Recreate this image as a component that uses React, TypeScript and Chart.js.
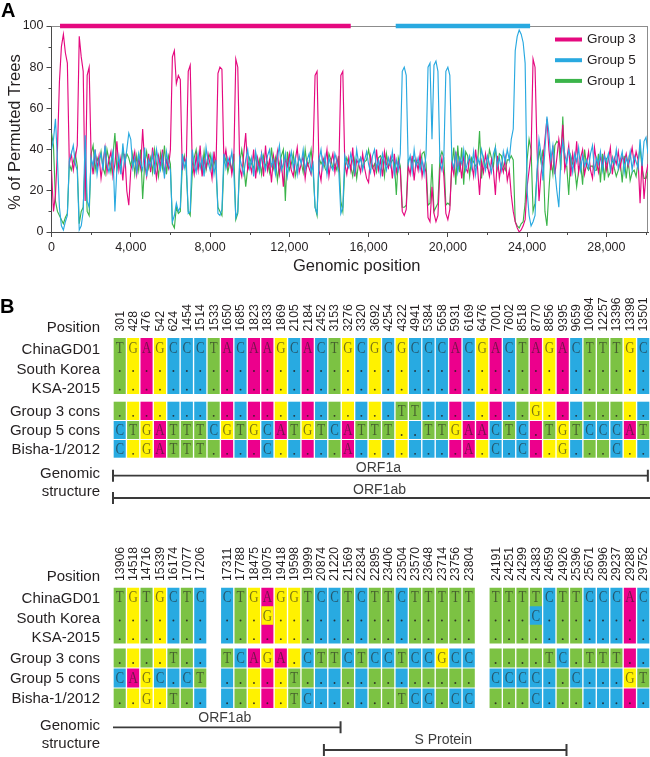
import React, { useEffect, useRef } from 'react';
import { Chart, registerables } from 'chart.js';

Chart.register(...registerables);

const SANS = "'Liberation Sans', Arial, Helvetica, sans-serif";
const SERIF = "'Liberation Serif', 'Times New Roman', serif";
const INK = '#231f20';
const AXIS = '#4a4a4a';
const FRAME = '#8c8c8c';
const STRUCT = '#3a3a3a';

// ---------------- Panel A data ----------------
const genomeLength = 30100;
const windowStep = 100;
const seriesNames = ['Group 3', 'Group 5', 'Group 1'];
const seriesColors = ['#E5097F', '#29A9E0', '#3BB44A'];

const group3Values = [
  30, 10, 18, 40, 73, 90, 96, 87, 82, 33,
  38, 30, 36, 42, 95, 85, 78, 15, 76, 80,
  36, 28, 40, 31, 37, 26, 34, 41, 29, 35,
  39, 27, 33, 44, 30, 36, 25, 38, 20, 13,
  30, 34, 39, 28, 36, 31, 50, 33, 27, 38,
  29, 41, 33, 26, 37, 32, 40, 28, 35, 31,
  40, 85, 88, 72, 76, 74, 30, 36, 33, 78,
  81, 34, 28, 37, 30, 42, 27, 35, 31, 38,
  33, 26, 39, 31, 77, 80, 79, 34, 40, 32,
  36, 28, 35, 84, 80, 31, 27, 38, 48, 30,
  33, 29, 40, 26, 36, 31, 38, 27, 42, 30,
  35, 24, 37, 31, 39, 28, 34, 22, 36, 32,
  38, 30, 27, 35, 41, 29, 33, 37, 26, 34,
  31, 28, 39, 76, 78, 30, 25, 36, 33, 40,
  27, 34, 38, 29, 36, 31, 76, 78, 33, 28,
  36, 30, 41, 27, 35, 33, 29, 38, 31, 26,
  24, 37, 32, 28, 40, 30, 35, 27, 39, 33,
  31, 36, 26, 38, 29, 34, 30, 10, 8, 11,
  32, 28, 37, 25, 35, 30, 38, 27, 33, 29,
  7, 5, 22, 9, 5, 8, 30, 36, 27, 9,
  6, 11, 33, 28, 39, 30, 35, 26, 37, 31,
  29, 36, 33, 27, 40, 31, 18, 34, 29, 38,
  32, 27, 35, 30, 18, 37, 26, 33, 29, 36,
  25, 30, 18, 10, 5, 2, 0, 1, 3, 6,
  22, 30, 38, 84, 80, 40, 15, 28, 35, 45,
  55, 40, 30, 42, 28, 36, 45, 38, 52, 30,
  35, 42, 27, 38, 31, 44, 29, 36, 40, 28,
  33, 39, 30, 26, 41, 34, 29, 37, 32, 38,
  30, 35, 41, 28, 36, 33, 39, 31, 37, 34,
  38, 32, 36, 41, 33, 39, 35, 14, 35, 16,
  28, 33,
];

const group5Values = [
  40, 45, 55, 35, 12, 3, 1, 5, 8, 35,
  38, 42, 33, 30, 1, 3, 10, 47, 15, 12,
  36, 32, 40, 28, 35, 38, 30, 42, 33, 29,
  34, 39, 10, 31, 37, 28, 43, 33, 40, 48,
  45, 31, 36, 29, 38, 33, 30, 41, 27, 35,
  32, 38, 28, 40, 34, 30, 37, 26, 39, 33,
  30, 5, 8, 14, 10, 12, 38, 31, 35, 9,
  10, 40, 33, 29, 38, 31, 36, 27, 41, 34,
  30, 37, 28, 35, 9, 8, 11, 38, 31, 36,
  33, 39, 29, 7, 10, 36, 32, 28, 35, 40,
  31, 36, 27, 39, 33, 29, 38, 34, 30, 37,
  40, 32, 35, 28, 36, 42, 30, 33, 38, 27,
  34, 39, 31, 36, 28, 37, 33, 40, 30, 35,
  38, 29, 33, 12, 9, 35, 40, 31, 37, 28,
  36, 32, 30, 38, 34, 29, 9, 12, 37, 33,
  31, 38, 34, 29, 40, 33, 36, 30, 35, 39,
  33, 29, 37, 40, 31, 35, 28, 38, 34, 30,
  36, 32, 39, 28, 35, 30, 38, 78, 80, 76,
  33, 37, 29, 40, 32, 36, 30, 35, 28, 38,
  80, 82, 45, 81, 83, 78, 34, 30, 37, 78,
  80, 76, 35, 31, 38, 29, 36, 33, 40, 30,
  34, 37, 31, 39, 28, 36, 33, 40, 35, 30,
  37, 33, 29, 38, 41, 32, 36, 30, 39, 34,
  40, 35, 45, 50, 88, 95, 98, 96, 92, 82,
  20, 8, 3, 5, 8, 30, 45, 38, 25, 40,
  56, 48, 35, 42, 30, 20, 12, 35, 44, 38,
  33, 40, 36, 29, 38, 34, 41, 30, 37, 32,
  35, 31, 38, 42, 29, 36, 33, 39, 30, 37,
  34, 38, 30, 36, 33, 40, 31, 35, 39, 29,
  36, 33, 39, 30, 37, 34, 31, 45, 32, 44,
  46, 38,
];

const group1Values = [
  48, 42, 15, 10, 8, 6, 4, 7, 9, 33,
  30, 34, 38, 32, 4, 10, 12, 36, 10, 8,
  38, 42, 30, 36, 33, 39, 31, 28, 40, 35,
  29, 37, 48, 30, 35, 32, 40, 34, 38, 36,
  32, 38, 28, 37, 30, 40, 16, 33, 39, 31,
  36, 29, 40, 33, 27, 38, 31, 42, 28, 37,
  33, 4, 2, 12, 9, 10, 32, 37, 30, 10,
  8, 28, 36, 40, 31, 33, 29, 39, 30, 35,
  38, 31, 35, 30, 12, 10, 8, 33, 36, 29,
  34, 30, 38, 6, 9, 34, 40, 33, 22, 31,
  36, 33, 31, 38, 30, 35, 28, 37, 32, 34,
  29, 41, 31, 36, 25, 33, 37, 40, 15, 39,
  30, 33, 38, 27, 32, 36, 34, 29, 40, 32,
  34, 40, 30, 12, 8, 36, 33, 35, 31, 29,
  38, 35, 31, 33, 30, 37, 15, 10, 31, 36,
  33, 32, 27, 35, 26, 34, 36, 31, 34, 35,
  40, 34, 31, 33, 29, 36, 37, 35, 27, 38,
  32, 33, 35, 34, 18, 36, 32, 12, 12, 13,
  35, 36, 34, 35, 33, 34, 32, 38, 39, 33,
  13, 14, 33, 10, 12, 14, 36, 39, 36, 13,
  14, 13, 32, 41, 23, 42, 29, 41, 23, 39,
  37, 27, 36, 34, 32, 33, 49, 26, 36, 32,
  31, 40, 36, 32, 41, 31, 38, 37, 32, 30,
  35, 35, 37, 35, 5, 3, 2, 4, 5, 14,
  35, 45, 40, 10, 14, 28, 40, 34, 40, 10,
  3, 20, 35, 28, 42, 44, 43, 30, 56, 32,
  32, 18, 37, 33, 31, 22, 30, 34, 23, 40,
  32, 30, 32, 32, 30, 30, 38, 24, 38, 25,
  36, 27, 29, 36, 31, 27, 30, 34, 24, 37,
  26, 35, 25, 29, 30, 27, 34, 41, 31, 26,
  26, 29,
];

// breakpoint regions drawn as bars along the top of the plot
const group3Region = [430, 15100];
const group5Region = [17370, 24150];

const yTicks = [0, 20, 40, 60, 80, 100];
const yMinorTicks = [10, 30, 50, 70, 90];
const xTicks = [0, 4000, 8000, 12000, 16000, 20000, 24000, 28000];
const xMinorTicks = [2000, 6000, 10000, 14000, 18000, 22000, 26000, 30000];

// ---------------- Panel B data ----------------
const rowNames = ['ChinaGD01', 'South Korea', 'KSA-2015', 'Group 3 cons', 'Group 5 cons', 'Bisha-1/2012'];
const ntColors: Record<string, string> = { T: '#7CC243', G: '#FFF200', A: '#EC008C', C: '#28AAE1' };

const positionsTop = ['301', '428', '476', '542', '624', '1454', '1514', '1533', '1650', '1685', '1823', '1833', '1869', '2105', '2184', '2452', '3153', '3276', '3320', '3692', '4254', '4322', '4941', '5384', '5658', '5931', '6169', '6476', '7001', '7602', '8518', '8770', '8856', '9395', '9659', '10694', '12257', '13396', '13398', '13501'];
const chinaTop = 'TGAGCCCTACAAGCACTGCGCGCCCACGACTAGACTTTGC';
const koreaTop = '........................................';
const ksaTop = '........................................';
const group3Top = '.....................TT........G........';
const group5Top = 'CTGATTTCGTGCATGTCATTT..TTGAACTC.TGTCCCAT';
const bishaTop = 'C.GATTT....C.....A........A.C.C..G...C..';

const positionsBottom = ['13906', '14518', '14716', '15339', '16174', '17077', '17206', '', '17311', '17788', '18475', '19075', '19418', '19598', '19999', '20874', '21220', '21569', '22834', '22895', '23406', '23504', '23570', '23648', '23714', '23756', '23804', '', '24191', '24251', '24299', '24383', '24659', '24926', '25396', '25671', '28996', '29237', '29288', '29752'];
const chinaBottom = 'TGTGCTC_CTGAGGTCCTCTTCTTTTT_TTTTCTTCCCAC';
const koreaBottom = '......._...G..............._...C........';
const ksaBottom = '......._..................._............';
const group3Bottom = '....T.._TCAGA.CTTCTCCTCCGCC_....TC.TTT..';
const group5Bottom = 'CAGC.CT_.....T............._CCCC..C...GT';
const bishaBottom = '..G.T.._.....TC......TCC.CC_...C........';

// genomic structure annotations (in alignment-column units)
const structureTop = [
  { name: 'ORF1a', from: 0, to: 39.84, tickStart: true, tickEnd: true },
  { name: 'ORF1ab', from: 0, to: 40, tickStart: true, tickEnd: false },
];
const structureBottom = [
  { name: 'ORF1ab', from: 0, to: 16.95, tickStart: false, tickEnd: true },
  { name: 'S Protein', from: 15.71, to: 33.78, tickStart: true, tickEnd: true },
];

// ---------------- Layout (pixels, relative to plot-area top) ----------------
const layoutTop = {
  canvasH: 225, areaTop: 53, yMax: 167, numPad: 6.5,
  bands: [[0, 18.7], [18.7, 37.3], [37.3, 56], [63.7, 82], [83, 101], [102, 119.7]],
  labelY: [-10, 12, 31.5, 50.5, 74, 92.5, 112, 135.5, 153.5],
  lineY: [137.7, 160], featLabelY: [130, 152],
  panel: 'B',
};
const layoutBottom = {
  canvasH: 247, areaTop: 77.5, yMax: 169, numPad: 6.5,
  bands: [[0, 18.7], [18.7, 37.3], [37.3, 56], [61, 80], [81, 100], [101, 120.5]],
  labelY: [-10.5, 11.5, 31.5, 50, 71.5, 91, 111.5, 138.5, 156.5],
  lineY: [139.8, 162.5], featLabelY: [130.8, 152.5],
  panel: '',
};

function fmtThousands(v: number) {
  return String(v).replace(/\B(?=(\d{3})+(?!\d))/g, ',');
}

const zeroPad = (s: any) => {
  s.paddingTop = 0;
  s.paddingBottom = 0;
  s.paddingLeft = 0;
  s.paddingRight = 0;
};

function makePanelA(canvas: HTMLCanvasElement) {
  const series = [group3Values, group5Values, group1Values];
  const drawOrder = [2, 1, 3];
  const datasets: any[] = series.map((vals, s) => ({
    type: 'line',
    label: seriesNames[s],
    data: vals.map((v, i) => ({ x: i * windowStep, y: v })),
    borderColor: seriesColors[s],
    borderWidth: 1.15,
    pointRadius: 0,
    tension: 0,
    order: drawOrder[s],
    inLegend: true,
  }));
  [group3Region, group5Region].forEach((r, k) => {
    datasets.push({
      type: 'line',
      label: k === 0 ? 'Group 3 region' : 'Group 5 region',
      data: [{ x: r[0], y: 100 }, { x: r[1], y: 100 }],
      borderColor: seriesColors[k],
      borderWidth: 4.5,
      borderCapStyle: 'butt',
      pointRadius: 0,
      clip: false,
      order: 0,
      inLegend: false,
    });
  });

  const plugin = {
    id: 'panelADecor',
    beforeDatasetsDraw(chart: any) {
      const { left, right, top, bottom } = chart.chartArea;
      const ctx = chart.ctx;
      ctx.save();
      ctx.strokeStyle = FRAME;
      ctx.lineWidth = 1;
      ctx.beginPath();
      ctx.moveTo(left, top + 0.5);
      ctx.lineTo(right, top + 0.5);
      ctx.moveTo(right - 0.5, top);
      ctx.lineTo(right - 0.5, bottom);
      ctx.stroke();
      ctx.restore();
    },
    afterDraw(chart: any) {
      const ctx = chart.ctx;
      const xs = chart.scales.x;
      const ys = chart.scales.y;
      const { left, bottom } = chart.chartArea;
      ctx.save();
      ctx.strokeStyle = AXIS;
      ctx.lineWidth = 1;
      ctx.beginPath();
      yMinorTicks.forEach((v) => {
        const y = Math.round(ys.getPixelForValue(v)) + 0.5;
        ctx.moveTo(left, y);
        ctx.lineTo(left - 3, y);
      });
      xMinorTicks.forEach((v) => {
        if (v > genomeLength) return;
        const x = Math.round(xs.getPixelForValue(v)) + 0.5;
        ctx.moveTo(x, bottom);
        ctx.lineTo(x, bottom + 3);
      });
      ctx.stroke();

      ctx.fillStyle = INK;
      ctx.font = `16.5px ${SANS}`;
      ctx.textAlign = 'center';
      ctx.textBaseline = 'middle';
      ctx.fillText('Genomic position', (xs.left + xs.right) / 2 + 7, 266);
      ctx.save();
      ctx.translate(15, (ys.top + ys.bottom) / 2 + 3);
      ctx.rotate(-Math.PI / 2);
      ctx.fillText('% of Permuted Trees', 0, 0);
      ctx.restore();

      // legend
      const items = chart.data.datasets.filter((d: any) => d.inLegend);
      ctx.font = `13.5px ${SANS}`;
      ctx.textAlign = 'left';
      items.forEach((d: any, i: number) => {
        const y = 39.5 + i * 20.7;
        ctx.strokeStyle = d.borderColor;
        ctx.lineWidth = 4;
        ctx.beginPath();
        ctx.moveTo(555, y);
        ctx.lineTo(582, y);
        ctx.stroke();
        ctx.fillStyle = INK;
        ctx.fillText(d.label, 587, y);
      });

      ctx.font = `bold 20px ${SANS}`;
      ctx.textBaseline = 'alphabetic';
      ctx.fillStyle = '#000';
      ctx.fillText('A', 1, 17);
      ctx.restore();
    },
  };

  return new Chart(canvas, {
    type: 'line',
    data: { datasets },
    options: {
      responsive: false,
      animation: false,
      events: [],
      layout: { padding: { top: 26, right: 2, left: 0, bottom: 0 } },
      plugins: { legend: { display: false }, tooltip: { enabled: false } },
      scales: {
        x: {
          type: 'linear',
          min: 0,
          max: genomeLength,
          afterFit: (s: any) => { s.height = 53; zeroPad(s); },
          afterBuildTicks: (s: any) => { s.ticks = xTicks.map((v) => ({ value: v })); },
          ticks: {
            autoSkip: false,
            maxRotation: 0,
            padding: 3,
            color: INK,
            font: { family: SANS, size: 12.5 },
            callback: (v: any) => fmtThousands(Number(v)),
          },
          grid: { drawOnChartArea: false, drawTicks: true, tickLength: 5, color: AXIS },
          border: { display: true, color: AXIS, width: 1 },
        },
        y: {
          type: 'linear',
          min: 0,
          max: 100,
          afterFit: (s: any) => { s.width = 51.5; zeroPad(s); },
          afterBuildTicks: (s: any) => { s.ticks = yTicks.map((v) => ({ value: v })); },
          ticks: {
            autoSkip: false,
            padding: 3,
            color: INK,
            font: { family: SANS, size: 12.5 },
          },
          grid: { drawOnChartArea: false, drawTicks: true, tickLength: 5, color: AXIS },
          border: { display: true, color: AXIS, width: 1 },
        },
      },
    } as any,
    plugins: [plugin],
  } as any);
}

function makeAlignment(canvas: HTMLCanvasElement, positions: string[], rows: string[], structure: any[], L: any) {
  const seqs = rows.map((r) => r.split(''));
  const ref = seqs[0];
  const B = L.bands;
  const barBase = {
    type: 'bar',
    grouped: false,
    barPercentage: 0.9,
    categoryPercentage: 1,
    borderWidth: 0,
    inflateAmount: 0,
    backgroundColor: (c: any) => (c.raw ? ntColors[c.raw.nt] : 'transparent'),
  };
  const datasets: any[] = [];
  // rows 1-3 share one coloured block (the reference base)
  datasets.push({
    ...barBase,
    label: rowNames[0],
    data: ref.map((ch, i) => ({ ch, i })).filter((o) => o.ch !== '_')
      .map((o) => ({ x: o.i + 0.5, y: [B[0][0], B[2][1]], nt: o.ch })),
    order: 5,
  });
  for (let k = 1; k < 6; k++) {
    const seq = seqs[k];
    datasets.push({
      ...barBase,
      label: rowNames[k],
      data: seq.map((ch, i) => ({ ch, i }))
        .filter((o) => o.ch !== '_' && (k >= 3 || o.ch !== '.'))
        .map((o) => ({ x: o.i + 0.5, y: [B[k][0], B[k][1]], nt: o.ch === '.' ? ref[o.i] : o.ch })),
      order: 4,
    });
  }
  structure.forEach((f, j) => {
    const y = L.lineY[j];
    const lineBase = { type: 'line', borderColor: STRUCT, pointRadius: 0, clip: false, order: 1, borderCapStyle: 'butt' };
    datasets.push({ ...lineBase, label: f.name, borderWidth: 1.8, data: [{ x: f.from, y }, { x: f.to, y }] });
    if (f.tickStart) datasets.push({ ...lineBase, label: f.name + ' start', borderWidth: 2, data: [{ x: f.from, y: y - 6 }, { x: f.from, y: y + 6 }] });
    if (f.tickEnd) datasets.push({ ...lineBase, label: f.name + ' end', borderWidth: 2, data: [{ x: f.to, y: y - 6 }, { x: f.to, y: y + 6 }] });
  });

  const rowLabels = ['Position', ...rowNames, 'Genomic', 'structure'];

  const plugin = {
    id: 'alignText',
    afterDatasetsDraw(chart: any) {
      const ctx = chart.ctx;
      const xs = chart.scales.x;
      const ys = chart.scales.y;
      const area = chart.chartArea;
      ctx.save();
      // nucleotide letters and identity dots
      seqs.forEach((seq, k) => {
        const top = ys.getPixelForValue(B[k][0]);
        const bot = ys.getPixelForValue(B[k][1]);
        const cy = (top + bot) / 2;
        seq.forEach((ch, i) => {
          if (ch === '_') return;
          const cx = xs.getPixelForValue(i + 0.5);
          if (ch === '.') {
            ctx.fillStyle = 'rgba(35,31,32,0.85)';
            ctx.beginPath();
            ctx.arc(cx, cy + 5, 0.95, 0, Math.PI * 2);
            ctx.fill();
          } else {
            ctx.save();
            ctx.translate(cx, cy + 1);
            ctx.scale(0.76, 1);
            ctx.fillStyle = 'rgba(35,31,32,0.6)';
            ctx.font = `17px ${SERIF}`;
            ctx.textAlign = 'center';
            ctx.textBaseline = 'middle';
            ctx.fillText(ch, 0, 0);
            ctx.restore();
          }
        });
      });
      // genome position labels (rotated)
      ctx.fillStyle = INK;
      ctx.font = `12.3px ${SANS}`;
      ctx.textAlign = 'left';
      ctx.textBaseline = 'middle';
      positions.forEach((p, i) => {
        if (!p) return;
        ctx.save();
        ctx.translate(xs.getPixelForValue(i + 0.5) + 0.5, area.top - L.numPad);
        ctx.rotate(-Math.PI / 2);
        ctx.fillText(p, 0, 0);
        ctx.restore();
      });
      // row labels
      ctx.font = `15px ${SANS}`;
      ctx.textAlign = 'right';
      rowLabels.forEach((t, j) => {
        ctx.fillText(t, 100, ys.getPixelForValue(L.labelY[j]));
      });
      // feature names
      ctx.fillStyle = '#3d3d3d';
      ctx.font = `14px ${SANS}`;
      ctx.textAlign = 'center';
      structure.forEach((f, j) => {
        ctx.fillText(f.name, xs.getPixelForValue((f.from + f.to) / 2) - 2, ys.getPixelForValue(L.featLabelY[j]));
      });
      if (L.panel) {
        ctx.fillStyle = '#000';
        ctx.font = `bold 20px ${SANS}`;
        ctx.textAlign = 'left';
        ctx.textBaseline = 'alphabetic';
        ctx.fillText(L.panel, 0, 28);
      }
      ctx.restore();
    },
  };

  return new Chart(canvas, {
    type: 'bar',
    data: { datasets },
    options: {
      responsive: false,
      animation: false,
      events: [],
      layout: { padding: { top: L.areaTop, right: 0, left: 113, bottom: L.canvasH - L.areaTop - L.yMax } },
      plugins: { legend: { display: false }, tooltip: { enabled: false } },
      scales: {
        x: { type: 'linear', display: false, min: 0, max: 40, offset: false },
        y: { type: 'linear', display: false, reverse: true, min: 0, max: L.yMax },
      },
    } as any,
    plugins: [plugin],
  } as any);
}

export default function App() {
  const aRef = useRef<HTMLCanvasElement>(null);
  const b1Ref = useRef<HTMLCanvasElement>(null);
  const b2Ref = useRef<HTMLCanvasElement>(null);

  useEffect(() => {
    document.body.style.margin = '0';
    const charts = [
      makePanelA(aRef.current as HTMLCanvasElement),
      makeAlignment(b1Ref.current as HTMLCanvasElement, positionsTop,
        [chinaTop, koreaTop, ksaTop, group3Top, group5Top, bishaTop], structureTop, layoutTop),
      makeAlignment(b2Ref.current as HTMLCanvasElement, positionsBottom,
        [chinaBottom, koreaBottom, ksaBottom, group3Bottom, group5Bottom, bishaBottom], structureBottom, layoutBottom),
    ];
    return () => charts.forEach((c) => c.destroy());
  }, []);

  return (
    <div style={{ position: 'relative', width: 650, height: 757, background: '#fff', overflow: 'hidden' }}>
      <canvas ref={aRef} width={650} height={285} style={{ position: 'absolute', left: 0, top: 0 }} />
      <canvas ref={b1Ref} width={650} height={layoutTop.canvasH} style={{ position: 'absolute', left: 0, top: 285 }} />
      <canvas ref={b2Ref} width={650} height={layoutBottom.canvasH} style={{ position: 'absolute', left: 0, top: 510 }} />
    </div>
  );
}
